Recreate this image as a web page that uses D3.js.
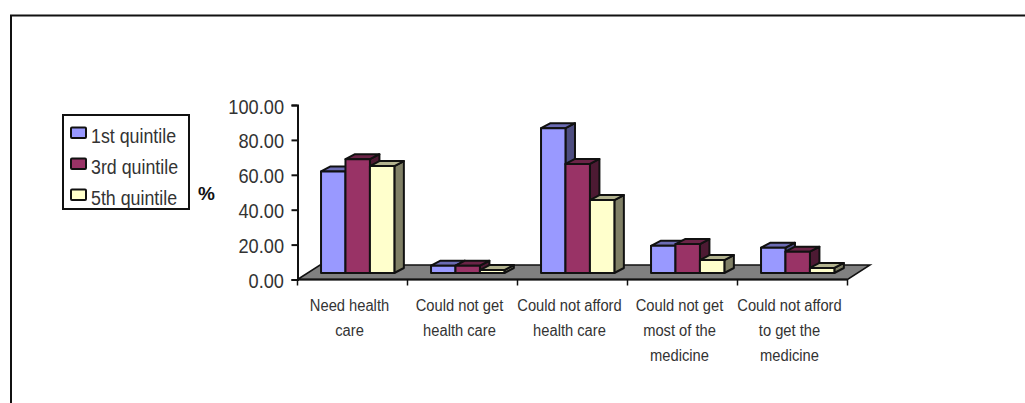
<!DOCTYPE html>
<html>
<head>
<meta charset="utf-8">
<style>
html,body{margin:0;padding:0;background:#fff;overflow:hidden}
svg{display:block}
text{font-family:"Liberation Sans",Arial,sans-serif;fill:#333}
</style>
<script src="https://cdn.jsdelivr.net/npm/d3@7/dist/d3.min.js"></script>
</head>
<body>
<script>
const categories = [
  ["Need health", "care"],
  ["Could not get", "health care"],
  ["Could not afford", "health care"],
  ["Could not get", "most of the", "medicine"],
  ["Could not afford", "to get the", "medicine"]
];
const seriesNames = ["1st quintile", "3rd quintile", "5th quintile"];
const quintile1 = [58.2, 4.2, 83.0, 15.6, 14.5];
const quintile3 = [65.2, 4.2, 62.5, 16.6, 12.2];
const quintile5 = [61.3, 1.7, 41.8, 7.4, 2.9];
const valueTicks = [0, 20, 40, 60, 80, 100];
const frontColors = ["#9999ff", "#993366", "#ffffcc"];
const topColors = ["#6b6bb3", "#6b2447", "#b3b38f"];
const sideColors = ["#4d4d80", "#4d1a33", "#808066"];

const W = 1025, H = 403;
const svg = d3.select("body").append("svg").attr("width", W).attr("height", H);

// Condensed text: horizontal squeeze applied around the anchor point
function squeezed(parent, px, py, str, size, sx, anchor) {
  return parent.append("text")
    .attr("transform", `translate(${px},${py}) scale(${sx},1)`)
    .attr("text-anchor", anchor).attr("font-size", size).text(str);
}

// Outer frame: only the top and left edges fall inside the page
const line = d3.line();
svg.append("path").attr("d", line([[W, 15.5], [11, 15.5], [11, H]]))
  .attr("fill", "none").attr("stroke", "#111").attr("stroke-width", 2);

const axisX = 297.5, axisEnd = 847.5, axisY0 = 279.5, axisY100 = 105;
const y = d3.scaleLinear().domain([0, 100]).range([axisY0, axisY100]);
const x = d3.scaleBand().domain(d3.range(categories.length)).range([axisX, axisEnd]);
const inner = d3.scaleBand().domain(d3.range(3)).range([0, x.bandwidth()]).paddingInner(0).paddingOuter(0.75);

// Depth offsets of the 3D floor and of the bar plane resting on it
const floorDX = 22.5, floorDY = -14.5;
const barDX = 5.2, barDY = -6.5, sideDX = 9.5, sideDY = -5;

svg.append("path")
  .attr("d", line([[axisX, axisY0], [axisX + floorDX, axisY0 + floorDY], [axisEnd + floorDX, axisY0 + floorDY], [axisEnd, axisY0]]) + "Z")
  .attr("fill", "#808080").attr("stroke", "#111").attr("stroke-width", 1.5);

// Axes
const yAxis = d3.axisLeft(y).tickValues(valueTicks).tickSize(6).tickPadding(0).tickFormat("");
const gy = svg.append("g").attr("transform", `translate(${axisX},0)`).call(yAxis);
gy.selectAll("path.domain,.tick line").attr("stroke", "#111").attr("stroke-width", 2);
const tickFormat = d3.format(".2f");
valueTicks.forEach(v => squeezed(svg, 284, y(v) + 8.5, tickFormat(v), 20, 0.91, "end"));

const gx = svg.append("g").attr("transform", `translate(0,${axisY0})`);
gx.append("line").attr("x1", axisX).attr("x2", axisEnd).attr("stroke", "#111").attr("stroke-width", 2);
gx.selectAll("line.t").data(d3.range(categories.length + 1)).join("line")
  .attr("class", "t")
  .attr("x1", i => axisX + i * x.step()).attr("x2", i => axisX + i * x.step())
  .attr("y1", 0).attr("y2", 6).attr("stroke", "#111").attr("stroke-width", 1.5);

categories.forEach((lines, i) => {
  lines.forEach((str, j) => {
    squeezed(svg, x(i) + x.bandwidth() / 2 - 3, 310.5 + j * 25, str, 16, 0.92, "middle");
  });
});

// Bars, drawn left to right so nearer faces overlap correctly
const series = [quintile1, quintile3, quintile5];
const base = y(0) + barDY;
const g = svg.append("g").attr("stroke", "#111").attr("stroke-width", 2).attr("stroke-linejoin", "round");
categories.forEach((c, i) => {
  series.forEach((vals, s) => {
    const x0 = x(i) + inner(s) + barDX, x1 = x0 + inner.bandwidth();
    const top = y(vals[i]) + barDY;
    g.append("path").attr("fill", sideColors[s])
      .attr("d", line([[x1, top], [x1 + sideDX, top + sideDY], [x1 + sideDX, base + sideDY], [x1, base]]) + "Z");
    g.append("path").attr("fill", topColors[s])
      .attr("d", line([[x0, top], [x0 + sideDX, top + sideDY], [x1 + sideDX, top + sideDY], [x1, top]]) + "Z");
    g.append("rect").attr("fill", frontColors[s])
      .attr("x", x0).attr("y", top).attr("width", x1 - x0).attr("height", base - top);
  });
});

// Axis title
svg.append("text").attr("x", 206.5).attr("y", 199.5).attr("text-anchor", "middle")
  .attr("font-size", 19).attr("font-weight", "bold").style("fill", "#111").text("%");

// Legend
const legend = svg.append("g");
legend.append("rect").attr("x", 63).attr("y", 115).attr("width", 126).attr("height", 94)
  .attr("fill", "#fff").attr("stroke", "#111").attr("stroke-width", 2);
const legendY = d3.scalePoint().domain(seriesNames).range([132.5, 194.5]);
seriesNames.forEach((name, s) => {
  legend.append("rect").attr("x", 71).attr("y", legendY(name) - 5).attr("width", 15).attr("height", 10.5)
    .attr("rx", 1).attr("fill", frontColors[s]).attr("stroke", "#111").attr("stroke-width", 2);
  squeezed(legend, 91, legendY(name) + 10, name, 20, 0.89, "start");
});
</script>
</body>
</html>
